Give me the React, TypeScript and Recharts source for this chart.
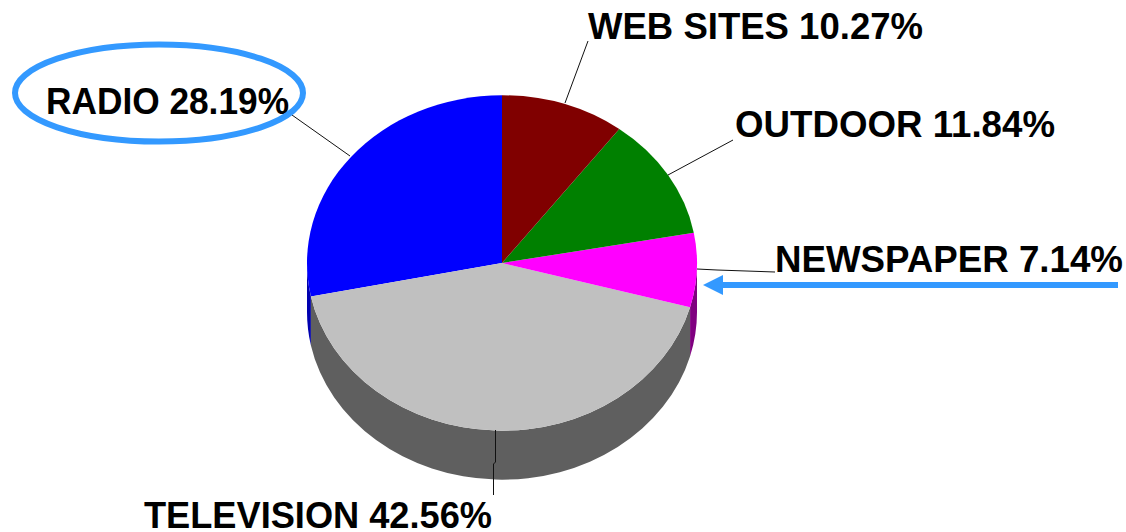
import { Pie, PieChart, Sector } from "recharts";

const categories = ["RADIO", "TELEVISION", "NEWSPAPER", "OUTDOOR", "WEB SITES"];
const shares = [28.19, 42.56, 7.14, 11.84, 10.27];
const topColors = ["#0000ff", "#c0c0c0", "#ff00ff", "#008000", "#800000"];
const wallColors = ["#0000b0", "#5f5f5f", "#800080", "#004000", "#400000"];

const data = categories.map((name, i) => ({
  name,
  value: shares[i],
  fill: topColors[i],
}));
const wallData = categories.map((name, i) => ({
  name,
  value: shares[i],
  fill: wallColors[i],
}));

// where each label sits, and the leader line running back to the pie
const labelSpots = [
  { x: 46, y: 114, w: 243, line: "292,115 350,156" },
  { x: 144, y: 528, w: 348, line: "495.5,430 495.5,462 493.5,464 493.5,495" },
  { x: 775, y: 272, w: 348, line: "697,269 717,270 775,272" },
  { x: 735, y: 137, w: 320, line: "733,140 668,175" },
  { x: 588, y: 39, w: 335, line: "588,41 565,103" },
];

const CX = 502;
const CY = 263;
const RX = 195;
const SQUASH = 0.86;
const DEPTH = 49;

function squashed(props: any) {
  return (
    <g transform={`translate(0 ${props.cy}) scale(1 ${SQUASH}) translate(0 ${-props.cy})`}>
      <Sector {...props} stroke="none" />
    </g>
  );
}

// side of the disc: only the front half (180-360deg) can be seen
function wall(props: any) {
  const a0 = Math.max(props.startAngle, 180);
  const a1 = Math.min(props.endAngle, 360);
  if (a1 <= a0) return <g />;
  const rx = props.outerRadius;
  const ry = rx * SQUASH;
  const px = (a: number) => props.cx + rx * Math.cos((a * Math.PI) / 180);
  const py = (a: number) => props.cy - ry * Math.sin((a * Math.PI) / 180);
  const big = a1 - a0 > 180 ? 1 : 0;
  const d =
    `M${px(a0)} ${py(a0)} A${rx} ${ry} 0 ${big} 0 ${px(a1)} ${py(a1)} ` +
    `L${px(a1)} ${py(a1) + DEPTH} A${rx} ${ry} 0 ${big} 1 ${px(a0)} ${py(a0) + DEPTH} Z`;
  return <path d={d} fill={props.fill} />;
}

function sliceLabel(props: any) {
  const spot = labelSpots[props.index];
  return (
    <g>
      <polyline points={spot.line} fill="none" stroke="#111" strokeWidth={1} />
      <text
        x={spot.x}
        y={spot.y}
        fill="#000"
        fontSize={36}
        fontWeight={700}
        fontFamily="'Liberation Sans', Arial, sans-serif"
        textLength={spot.w}
        lengthAdjust="spacingAndGlyphs"
      >
        {`${props.name} ${props.value.toFixed(2)}%`}
      </text>
    </g>
  );
}

export default function App() {
  return (
    <div style={{ position: "fixed", left: 0, top: 0, width: 1126, height: 532, background: "#fff" }}>
      <PieChart width={1126} height={532} margin={{ top: 0, right: 0, bottom: 0, left: 0 }}>
        <Pie
          data={wallData}
          dataKey="value"
          nameKey="name"
          cx={CX}
          cy={CY}
          outerRadius={RX}
          startAngle={90}
          endAngle={450}
          shape={wall}
          isAnimationActive={false}
        />
        <Pie
          data={data}
          dataKey="value"
          nameKey="name"
          cx={CX}
          cy={CY}
          outerRadius={RX}
          startAngle={90}
          endAngle={450}
          shape={squashed}
          label={sliceLabel}
          labelLine={false}
          isAnimationActive={false}
        />
      </PieChart>
      <svg width={1126} height={532} style={{ position: "absolute", left: 0, top: 0, pointerEvents: "none" }}>
        <ellipse cx={159} cy={93} rx={144} ry={48.5} fill="none" stroke="#3399ff" strokeWidth={6} />
        <line x1={1118} y1={285} x2={722} y2={285} stroke="#3399ff" strokeWidth={6} />
        <polygon points="703,285 723,275 723,295" fill="#3399ff" />
      </svg>
    </div>
  );
}
